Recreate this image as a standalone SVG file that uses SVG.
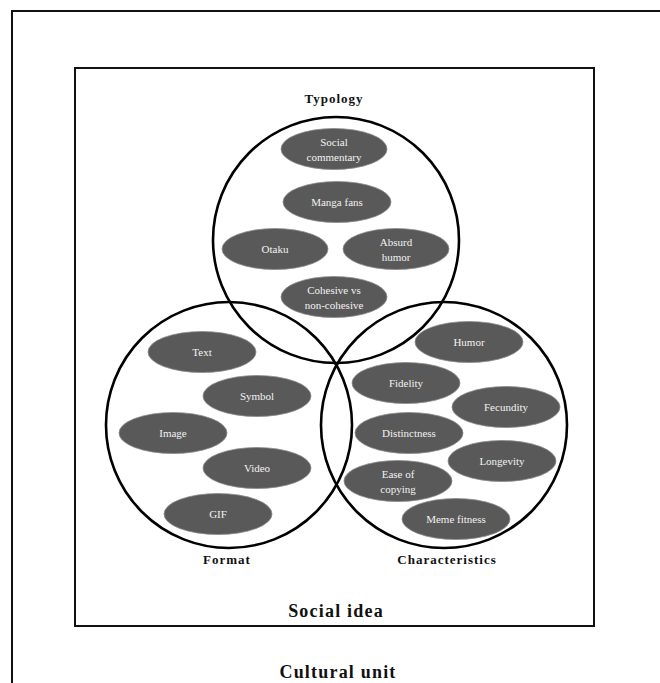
<svg xmlns="http://www.w3.org/2000/svg" width="660" height="683" viewBox="0 0 660 683">
<style>
.frame{fill:none;stroke:#111;stroke-width:2}
.venn{fill:none;stroke:#000;stroke-width:2.6}
.pill{fill:#595959;stroke:#8a8a8a;stroke-width:0.8}
.pt{font-family:"Liberation Serif",serif;font-size:11px;fill:#f2f2f2;text-anchor:middle}
.hd{font-family:"Liberation Serif",serif;font-size:13px;font-weight:bold;fill:#111;text-anchor:middle;letter-spacing:1px}
.big{font-family:"Liberation Serif",serif;font-size:18px;font-weight:bold;fill:#111;text-anchor:middle;letter-spacing:1.2px}
</style>
<rect width="660" height="683" fill="#fff"/>
<g id="outer-frame"><path class="frame" d="M12,690 L12,11 L670,11"/></g>
<g id="social-idea-frame"><rect class="frame" x="75" y="68" width="519" height="558"/></g>
<g id="connectors">
<circle id="typology-circle" class="venn" cx="336" cy="240" r="123"/>
<circle id="format-circle" class="venn" cx="229" cy="425" r="123"/>
<circle id="characteristics-circle" class="venn" cx="444" cy="425" r="123"/>
</g>
<g id="labels">
<text class="hd" x="334" y="103">Typology</text>
<text class="hd" x="227" y="564">Format</text>
<text class="hd" x="447" y="564">Characteristics</text>
<text class="big" x="336" y="617">Social idea</text>
<text class="big" x="338" y="678">Cultural unit</text>
</g>
<g id="social-commentary"><ellipse class="pill" cx="334" cy="149" rx="53" ry="20.5"/><text class="pt" x="334" y="146">Social</text><text class="pt" x="334" y="161">commentary</text></g>
<g id="manga-fans"><ellipse class="pill" cx="337" cy="202" rx="54" ry="20.5"/><text class="pt" x="337" y="206">Manga fans</text></g>
<g id="otaku"><ellipse class="pill" cx="275" cy="249" rx="53" ry="20.5"/><text class="pt" x="275" y="253">Otaku</text></g>
<g id="absurd-humor"><ellipse class="pill" cx="396" cy="249" rx="53" ry="20.5"/><text class="pt" x="396" y="246">Absurd</text><text class="pt" x="396" y="261">humor</text></g>
<g id="cohesive"><ellipse class="pill" cx="334" cy="297" rx="53" ry="20.5"/><text class="pt" x="334" y="294">Cohesive  vs</text><text class="pt" x="334" y="309">non-cohesive</text></g>
<g id="text"><ellipse class="pill" cx="202" cy="352" rx="54" ry="20.5"/><text class="pt" x="202" y="356">Text</text></g>
<g id="symbol"><ellipse class="pill" cx="257" cy="396" rx="54" ry="20.5"/><text class="pt" x="257" y="400">Symbol</text></g>
<g id="image"><ellipse class="pill" cx="173" cy="433" rx="54" ry="20.5"/><text class="pt" x="173" y="437">Image</text></g>
<g id="video"><ellipse class="pill" cx="257" cy="468" rx="54" ry="20.5"/><text class="pt" x="257" y="472">Video</text></g>
<g id="gif"><ellipse class="pill" cx="218" cy="514" rx="54" ry="20.5"/><text class="pt" x="218" y="518">GIF</text></g>
<g id="humor"><ellipse class="pill" cx="469" cy="342" rx="54" ry="20.5"/><text class="pt" x="469" y="346">Humor</text></g>
<g id="fidelity"><ellipse class="pill" cx="406" cy="383" rx="54" ry="20.5"/><text class="pt" x="406" y="387">Fidelity</text></g>
<g id="fecundity"><ellipse class="pill" cx="506" cy="407" rx="54" ry="20.5"/><text class="pt" x="506" y="411">Fecundity</text></g>
<g id="distinctness"><ellipse class="pill" cx="409" cy="433" rx="54" ry="20.5"/><text class="pt" x="409" y="437">Distinctness</text></g>
<g id="longevity"><ellipse class="pill" cx="502" cy="461" rx="54" ry="20.5"/><text class="pt" x="502" y="465">Longevity</text></g>
<g id="ease-of-copying"><ellipse class="pill" cx="398" cy="481" rx="54" ry="20.5"/><text class="pt" x="398" y="478">Ease of</text><text class="pt" x="398" y="493">copying</text></g>
<g id="meme-fitness"><ellipse class="pill" cx="456" cy="519" rx="54" ry="20.5"/><text class="pt" x="456" y="523">Meme fitness</text></g>
</svg>
